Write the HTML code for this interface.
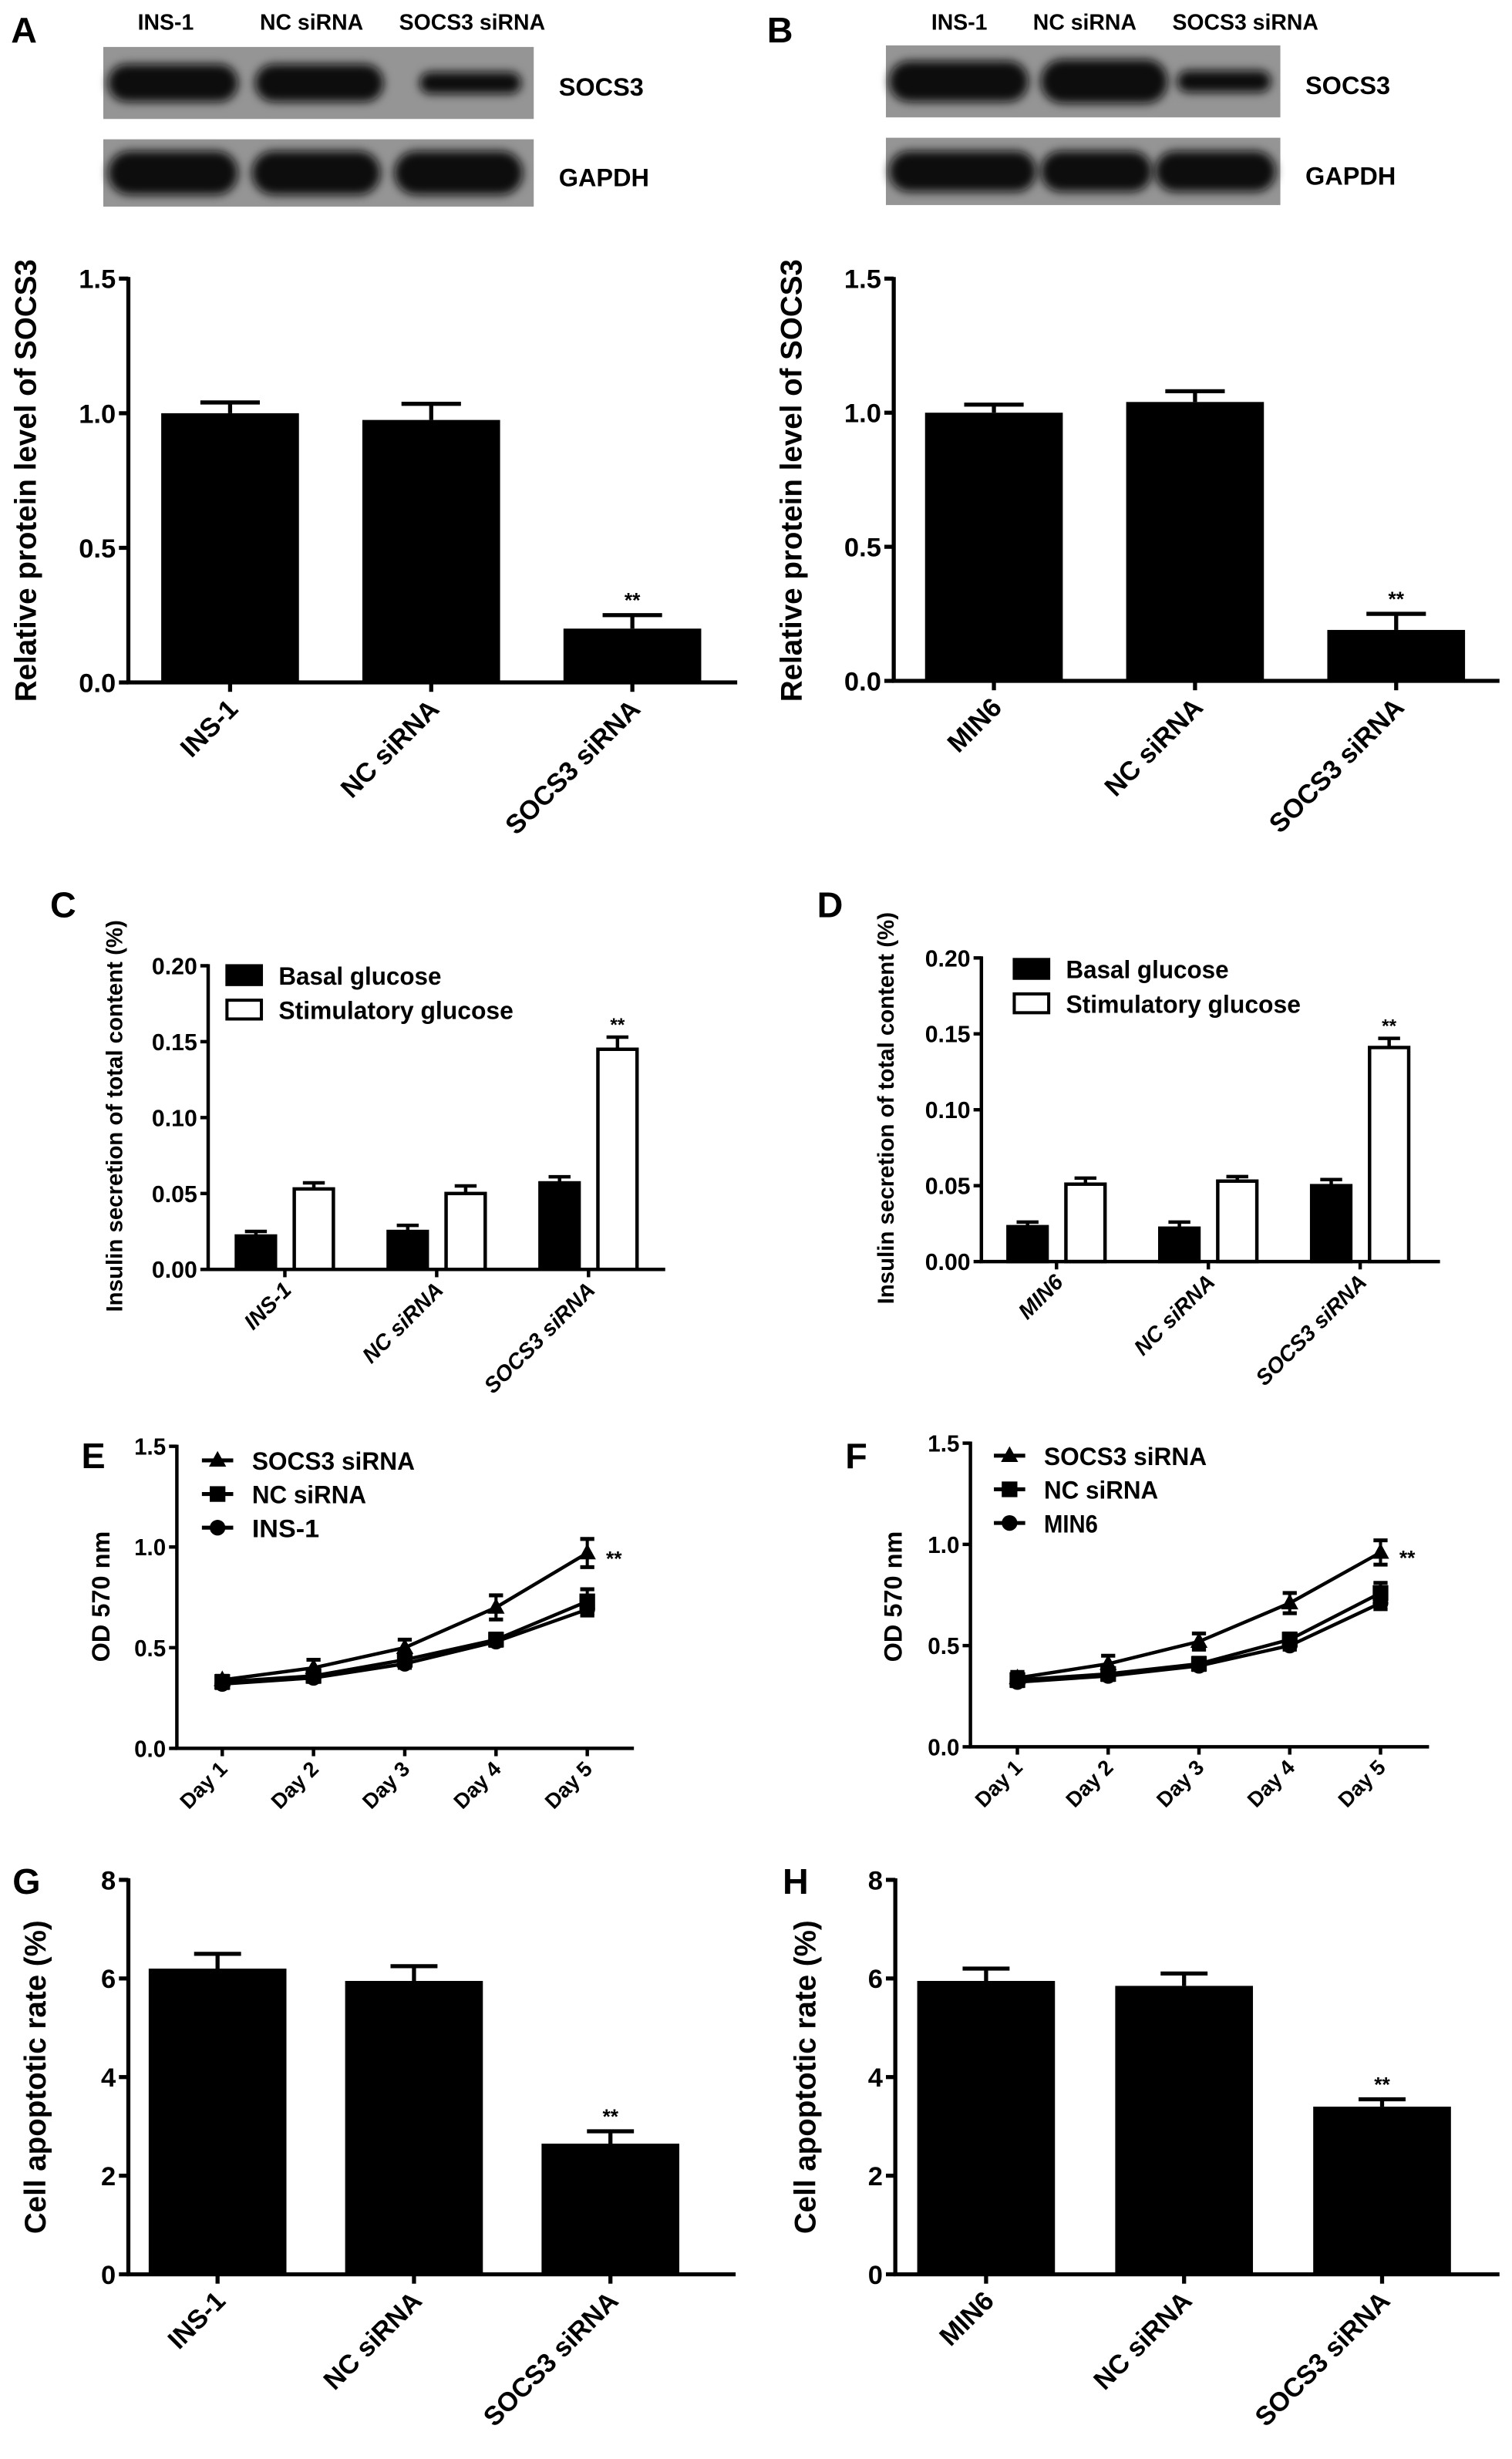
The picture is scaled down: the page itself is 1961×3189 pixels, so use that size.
<!DOCTYPE html>
<html><head><meta charset="utf-8">
<style>
html,body{margin:0;padding:0;background:#fff;}
svg{display:block;font-family:"Liberation Sans",Arial,sans-serif;}
</style></head>
<body>
<svg id="fig" width="1961" height="3189" viewBox="0 0 966 1571" preserveAspectRatio="none" xmlns="http://www.w3.org/2000/svg">
<defs><filter id="blur" x="-20%" y="-60%" width="140%" height="220%"><feGaussianBlur stdDeviation="3"/></filter></defs>
</svg>
<script>
// ===== Data =====
const aCats = ["INS-1", "NC siRNA", "SOCS3 siRNA"];
const aVals = [1.0, 0.975, 0.2];
const aErrs = [0.04, 0.06, 0.05];
const aTicks = [0, 0.5, 1.0, 1.5];
const aTickLabels = ["0.0", "0.5", "1.0", "1.5"];

const bCats = ["MIN6", "NC siRNA", "SOCS3 siRNA"];
const bVals = [1.0, 1.04, 0.19];
const bErrs = [0.03, 0.04, 0.06];

const cCats = ["INS-1", "NC siRNA", "SOCS3 siRNA"];
const cBasal = [0.022, 0.025, 0.057];
const cBasalErr = [0.003, 0.004, 0.004];
const cStim = [0.053, 0.050, 0.145];
const cStimErr = [0.004, 0.005, 0.008];
const cTicks = [0, 0.05, 0.10, 0.15, 0.20];
const cTickLabels = ["0.00", "0.05", "0.10", "0.15", "0.20"];

const dCats = ["MIN6", "NC siRNA", "SOCS3 siRNA"];
const dBasal = [0.023, 0.022, 0.050];
const dBasalErr = [0.003, 0.004, 0.004];
const dStim = [0.051, 0.053, 0.141];
const dStimErr = [0.004, 0.003, 0.006];

const days = ["Day 1", "Day 2", "Day 3", "Day 4", "Day 5"];
const eTicks = [0, 0.5, 1.0, 1.5];
const eTickLabels = ["0.0", "0.5", "1.0", "1.5"];
const eSocs = [0.34, 0.40, 0.50, 0.70, 0.97];
const eSocsErr = [0.02, 0.04, 0.04, 0.06, 0.07];
const eNc = [0.33, 0.36, 0.44, 0.54, 0.73];
const eNcErr = [0.03, 0.02, 0.03, 0.03, 0.06];
const eCtrl = [0.32, 0.35, 0.42, 0.53, 0.69];
const eCtrlErr = [0.02, 0.02, 0.02, 0.02, 0.03];

const fSocs = [0.34, 0.41, 0.52, 0.71, 0.96];
const fSocsErr = [0.03, 0.04, 0.04, 0.05, 0.06];
const fNc = [0.33, 0.36, 0.41, 0.53, 0.76];
const fNcErr = [0.03, 0.02, 0.03, 0.03, 0.05];
const fCtrl = [0.32, 0.35, 0.40, 0.50, 0.71];
const fCtrlErr = [0.02, 0.02, 0.02, 0.02, 0.03];

const gCats = ["INS-1", "NC siRNA", "SOCS3 siRNA"];
const gVals = [6.2, 5.95, 2.65];
const gErrs = [0.3, 0.3, 0.25];
const gTicks = [0, 2, 4, 6, 8];
const gTickLabels = ["0", "2", "4", "6", "8"];

const hCats = ["MIN6", "NC siRNA", "SOCS3 siRNA"];
const hVals = [5.95, 5.85, 3.4];
const hErrs = [0.25, 0.25, 0.15];

// ===== Helpers =====
const NS = "http://www.w3.org/2000/svg";
const svg = document.getElementById("fig");
function mk(tag, attrs, parent) {
  const e = document.createElementNS(NS, tag);
  for (const k in attrs) e.setAttribute(k, attrs[k]);
  (parent || svg).appendChild(e);
  return e;
}
function txt(str, attrs, parent) {
  const t = mk("text", attrs, parent);
  t.textContent = str;
  return t;
}
function ln(x1, y1, x2, y2, w, parent) {
  return mk("line", {x1: x1, y1: y1, x2: x2, y2: y2, stroke: "#000", "stroke-width": w}, parent);
}

function panelLetter(ch, x, y) {
  const t = txt(ch, {x: x, y: y, "font-size": 23, "font-weight": "bold"});
  
  
}

function yAxis(g, cfg, ticks, labels, sc) {
  const ax = ln(cfg.axisX, cfg.yTop - 1, cfg.axisX, cfg.yZero + 1, cfg.sw, g);
  
  
  ticks.forEach((v, i) => {
    const y = sc(v);
    ln(cfg.axisX - cfg.tickLen, y, cfg.axisX, y, cfg.sw, g);
    const t = txt(labels[i], {x: cfg.axisX - cfg.tickLen - 2, y: y + cfg.tfs * 0.36, "font-size": cfg.tfs, "font-weight": "bold", "text-anchor": "end"}, g);
    if (cfg.tlw) { t.setAttribute("textLength", cfg.tlw * labels[i].length / 4); t.setAttribute("lengthAdjust", "spacingAndGlyphs"); }
    
    
  });
  const xa = ln(cfg.axisX - 1, cfg.yZero, cfg.xEnd, cfg.yZero, cfg.sw, g);
  
  
  const yl = txt(cfg.ylabel, {x: 0, y: 0, "font-size": cfg.yfs, "font-weight": "bold", "text-anchor": "middle",
    transform: "translate(" + cfg.ylx + "," + cfg.yly + ") rotate(-90)"}, g);
  
  
}

function xLabels(g, cats, xc, cfg) {
  cats.forEach((c, i) => {
    const x = xc(i);
    ln(x, cfg.yZero, x, cfg.yZero + cfg.tickLen, cfg.sw, g);
    const t = txt(c, {x: 0, y: 0, "font-size": cfg.xfs, "font-weight": "bold", "text-anchor": "end",
      "font-style": cfg.italic ? "italic" : "normal",
      transform: "translate(" + (x + cfg.xlOff) + "," + (cfg.yZero + cfg.xlDy) + ") rotate(-45)"}, g);
    
    
  });
}

function barChart(name, cfg, cats, vals, errs, ticks, labels, vmax) {
  const g = mk("g", {});
  
  
  const sc = v => cfg.yZero - v / vmax * (cfg.yZero - cfg.yTop);
  const xc = i => cfg.axisX + cfg.off + i * cfg.step;
  vals.forEach((v, i) => {
    const x = xc(i);
    const top = sc(v), et = sc(v + errs[i]);
    const e1 = ln(x, top, x, et, cfg.sw, g);
    
    
    ln(x - cfg.cap / 2, et, x + cfg.cap / 2, et, cfg.sw, g);
    const r = mk("rect", {x: x - cfg.bw / 2, y: top, width: cfg.bw, height: cfg.yZero - top, fill: "#000"}, g);
    
    
    if (i === 2) {
      const s = txt("**", {x: x, y: et - 5, "font-size": 13, "font-weight": "bold", "text-anchor": "middle"}, g);
      
      
    }
  });
  yAxis(g, cfg, ticks, labels, sc);
  xLabels(g, cats, xc, cfg);
}

function groupChart(name, cfg, cats, basal, basalE, stim, stimE) {
  const g = mk("g", {});
  
  
  const vmax = 0.20;
  const sc = v => cfg.yZero - v / vmax * (cfg.yZero - cfg.yTop);
  const xc = i => cfg.axisX + cfg.off + i * cfg.step;
  cats.forEach((c, i) => {
    [[basal, basalE, -1, "#000", "basal"], [stim, stimE, 1, "#fff", "stimulatory"]].forEach(s => {
      const v = s[0][i], x = xc(i) + s[2] * cfg.gap, top = sc(v), et = sc(v + s[1][i]);
      ln(x, top, x, et, cfg.sw, g);
      ln(x - cfg.cap / 2, et, x + cfg.cap / 2, et, cfg.sw, g);
      const r = mk("rect", {x: x - cfg.bw / 2, y: top, width: cfg.bw, height: cfg.yZero - top, fill: s[3], stroke: "#000", "stroke-width": cfg.sw}, g);
      
      
      if (i === 2 && s[4] === "stimulatory") {
        const st = txt("**", {x: x, y: et - 4, "font-size": 12, "font-weight": "bold", "text-anchor": "middle"}, g);
        
        
      }
    });
  });
  yAxis(g, cfg, cTicks, cTickLabels, sc);
  xLabels(g, cats, xc, cfg);
  const lg = mk("g", {}, g);
  
  
  const e1 = mk("rect", {x: cfg.lx, y: cfg.ly, width: 22, height: 12, fill: "#000", stroke: "#000", "stroke-width": 2}, lg);
  
  
  const t1 = txt("Basal glucose", {x: cfg.lx + 33, y: cfg.ly + 12, "font-size": 16, "font-weight": "bold", textLength: 104, lengthAdjust: "spacingAndGlyphs"}, lg);
  
  
  const e2 = mk("rect", {x: cfg.lx, y: cfg.ly + 22, width: 22, height: 12, fill: "#fff", stroke: "#000", "stroke-width": 2}, lg);
  
  
  const t2 = txt("Stimulatory glucose", {x: cfg.lx + 33, y: cfg.ly + 34, "font-size": 16, "font-weight": "bold", textLength: 150, lengthAdjust: "spacingAndGlyphs"}, lg);
  
  
}

function marker(type, x, y, g) {
  if (type === "tri") return mk("polygon", {points: (x) + "," + (y - 6) + " " + (x - 5.5) + "," + (y + 4) + " " + (x + 5.5) + "," + (y + 4), fill: "#000"}, g);
  if (type === "sq") return mk("rect", {x: x - 5, y: y - 5, width: 10, height: 10, fill: "#000"}, g);
  return mk("circle", {cx: x, cy: y, r: 5, fill: "#000"}, g);
}
function lineChart(name, cfg, series, ctrlName) {
  const g = mk("g", {});
  
  
  const sc = v => cfg.yZero - v / 1.5 * (cfg.yZero - cfg.yTop);
  const xc = i => cfg.axisX + cfg.off + i * cfg.step;
  series.forEach(s => {
    const sg = mk("g", {}, g);
    
    
    const pts = s.vals.map((v, i) => xc(i) + "," + sc(v)).join(" ");
    const pl = mk("polyline", {points: pts, fill: "none", stroke: "#000", "stroke-width": 2.2}, sg);
    
    
    s.vals.forEach((v, i) => {
      const x = xc(i), y1 = sc(v + s.errs[i]), y2 = sc(v - s.errs[i]);
      ln(x, y1, x, y2, 2, sg);
      ln(x - 4.5, y1, x + 4.5, y1, 2.5, sg);
      ln(x - 4.5, y2, x + 4.5, y2, 2.5, sg);
      const m = marker(s.m, x, sc(v), sg);
      
      
    });
  });
  const top = series[0];
  const star = txt("**", {x: xc(4) + 12, y: sc(top.vals[4]) + 8, "font-size": 13, "font-weight": "bold"}, g);
  
  
  yAxis(g, cfg, eTicks, eTickLabels, sc);
  xLabels(g, days, xc, cfg);
  const lg = mk("g", {}, g);
  
  
  const names = ["SOCS3 siRNA", "NC siRNA", ctrlName];
  const widths = [104, 73, ctrlName.length * 8.6];
  series.forEach((s, i) => {
    const y = cfg.ly + i * 21.5;
    ln(cfg.lx, y, cfg.lx + 20, y, 2.5, lg);
    marker(s.m, cfg.lx + 10, y, lg);
    const t = txt(names[i], {x: cfg.lx + 32, y: y + 6, "font-size": 16, "font-weight": "bold", textLength: widths[i], lengthAdjust: "spacingAndGlyphs"}, lg);
    
    
  });
}

function blot(name, x, w, headers, hx, bands1, bands2, yo) {
  const g = mk("g", {});
  
  
  headers.forEach((h, i) => {
    const t = txt(h, {x: hx[i], y: 19, "font-size": 14, "font-weight": "bold", "xml:space": "preserve"}, g);
    
    
  });
  [[30 + yo, 46, bands1, "SOCS3", 55 + yo], [89 + yo, 43, bands2, "GAPDH", 113 + yo]].forEach(row => {
    const bg = mk("rect", {x: x, y: row[0], width: w, height: row[1], fill: "#959595"}, g);
    
    
    row[2].forEach(b => {
      const e = mk("rect", {x: b[0], y: row[0] + row[1] / 2 - b[2] / 2, width: b[1] - b[0], height: b[2], rx: b[2] / 2, fill: "#080808", filter: "url(#blur)"}, g);
      
      
    });
    const t = txt(row[3], {x: x + w + 16, y: row[4] + 6, "font-size": 16, "font-weight": "bold"}, g);
    
    
  });
}

panelLetter("A", 7, 27); panelLetter("B", 490, 27);
panelLetter("C", 32, 586); panelLetter("D", 522, 586);
panelLetter("E", 52, 938); panelLetter("F", 540, 938);
panelLetter("G", 8, 1210); panelLetter("H", 500, 1210);

blot("western-blot-a", 66, 275, ["INS-1", "NC  siRNA", "SOCS3 siRNA"], [88, 166, 255],
  [[69, 152, 24], [163, 245, 24], [268, 333, 14]], [[69, 152, 28], [161, 243, 28], [252, 334, 28]], 0);
blot("western-blot-b", 566, 252, ["INS-1", "NC  siRNA", "SOCS3 siRNA"], [595, 660, 749],
  [[568, 657, 26], [665, 746, 28], [752, 812, 14]], [[568, 662, 26], [665, 736, 26], [738, 815, 26]], -1);

const barBase = {sw: 2.6, tickLen: 6, tfs: 17, yfs: 19, bw: 88, cap: 38, xfs: 17, xlOff: 6, xlDy: 18};
barChart("chart-a", Object.assign({}, barBase, {axisX: 82, xEnd: 471, yZero: 436, yTop: 178, off: 65, step: 128.5,
  ylabel: "Relative protein level of SOCS3", ylx: 23, yly: 307}), aCats, aVals, aErrs, aTicks, aTickLabels, 1.5);
barChart("chart-b", Object.assign({}, barBase, {axisX: 571, xEnd: 958, yZero: 435, yTop: 178, off: 64, step: 128.5,
  ylabel: "Relative protein level of SOCS3", ylx: 512, yly: 307}), bCats, bVals, bErrs, aTicks, aTickLabels, 1.5);

const grpBase = {sw: 2.2, tickLen: 5, tfs: 15, tlw: 29, yfs: 14.5, bw: 25, gap: 18.5, cap: 14, xfs: 14, xlOff: 5, xlDy: 14, italic: true};
groupChart("chart-c", Object.assign({}, grpBase, {axisX: 133, xEnd: 425, yZero: 811, yTop: 617, off: 49, step: 97,
  ylabel: "Insulin secretion of total content (%)", ylx: 78, yly: 713, lx: 145, ly: 617}), cCats, cBasal, cBasalErr, cStim, cStimErr);
groupChart("chart-d", Object.assign({}, grpBase, {axisX: 627, xEnd: 920, yZero: 806, yTop: 612, off: 48, step: 97,
  ylabel: "Insulin secretion of total content (%)", ylx: 571, yly: 708, lx: 648, ly: 613}), dCats, dBasal, dBasalErr, dStim, dStimErr);

const lineBase = {sw: 2.2, tickLen: 5, tfs: 15, tlw: 27, yfs: 16, xfs: 13.5, xlOff: 4, xlDy: 14, step: 58.3};
lineChart("chart-e", Object.assign({}, lineBase, {axisX: 113, xEnd: 405, yZero: 1117, yTop: 924, off: 29,
  ylabel: "OD 570 nm", ylx: 70, yly: 1020, lx: 129, ly: 933}),
  [{key: "socs3-sirna", vals: eSocs, errs: eSocsErr, m: "tri"}, {key: "nc-sirna", vals: eNc, errs: eNcErr, m: "sq"}, {key: "ins-1", vals: eCtrl, errs: eCtrlErr, m: "circ"}], "INS-1");
lineChart("chart-f", Object.assign({}, lineBase, {axisX: 620, xEnd: 913, yZero: 1116, yTop: 922, off: 30, step: 58,
  ylabel: "OD 570 nm", ylx: 576, yly: 1020, lx: 635, ly: 930}),
  [{key: "socs3-sirna", vals: fSocs, errs: fSocsErr, m: "tri"}, {key: "nc-sirna", vals: fNc, errs: fNcErr, m: "sq"}, {key: "min6", vals: fCtrl, errs: fCtrlErr, m: "circ"}], "MIN6");

barChart("chart-g", Object.assign({}, barBase, {axisX: 82, xEnd: 470, yZero: 1453, yTop: 1201, off: 57, step: 125.5, cap: 30,
  ylabel: "Cell apoptotic rate (%)", ylx: 29, yly: 1327}), gCats, gVals, gErrs, gTicks, gTickLabels, 8);
barChart("chart-h", Object.assign({}, barBase, {axisX: 572, xEnd: 958, yZero: 1453, yTop: 1201, off: 58, step: 126.5, cap: 30,
  ylabel: "Cell apoptotic rate (%)", ylx: 521, yly: 1327}), hCats, hVals, hErrs, gTicks, gTickLabels, 8);
</script>
</body></html>
